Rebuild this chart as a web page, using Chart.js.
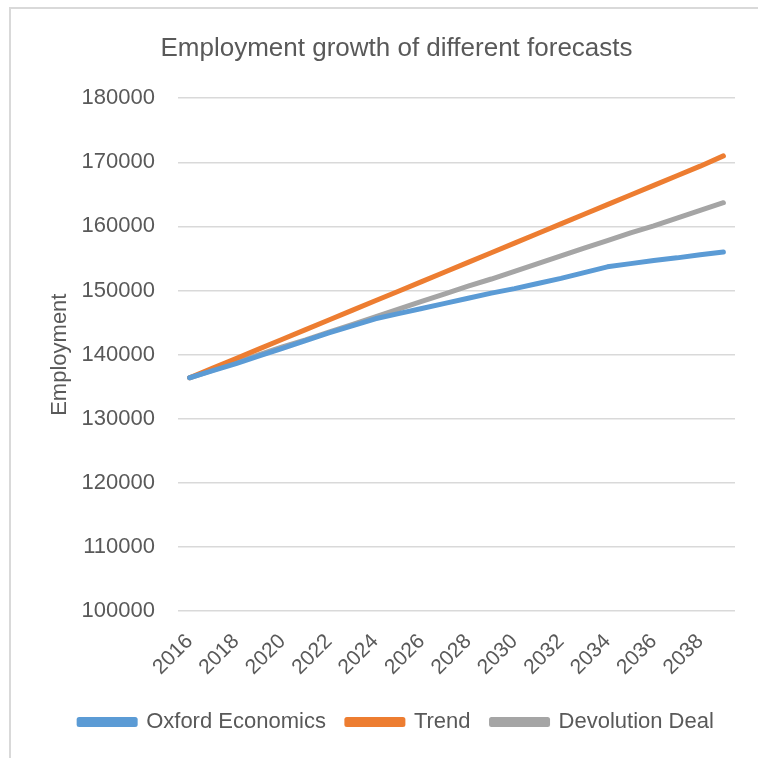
<!DOCTYPE html>
<html>
<head>
<meta charset="utf-8">
<script src="https://cdn.jsdelivr.net/npm/chart.js@4/dist/chart.umd.min.js"></script>
<style>
  html, body { margin: 0; padding: 0; background: #fff; }
  #frame { position: absolute; left: 9px; top: 7px; width: 800px; height: 800px; border-left: 2px solid #D9D9D9; border-top: 2px solid #D9D9D9; }
  #wrap { position: absolute; left: 0; top: 0; width: 758px; height: 758px; }
</style>
</head>
<body>
<div id="frame"></div>
<div id="wrap"><canvas id="chart"></canvas></div>
<script>
// years along the x axis
var years = ['2016','2017','2018','2019','2020','2021','2022','2023','2024','2025','2026','2027',
             '2028','2029','2030','2031','2032','2033','2034','2035','2036','2037','2038','2039'];

var oxford = [136400,137500,138600,139800,141000,142200,143400,144500,145600,146400,147200,148000,
              148800,149600,150300,151100,151900,152800,153700,154200,154700,155100,155600,156000];

var trend = [136400,137900,139400,140900,142400,143900,145400,146900,148400,149900,151400,152900,
             154400,155900,157400,158900,160400,161900,163400,164900,166400,167900,169400,171000];

var devolution = [136400,137600,138800,140000,141200,142300,143500,144700,145900,147100,148300,149500,
                  150700,151800,153000,154200,155400,156600,157800,159000,160100,161300,162500,163700];

var yTicks = [100000,110000,120000,130000,140000,150000,160000,170000,180000];

var fontFam = "'Liberation Sans', Arial, sans-serif";
var textCol = '#595959';

function series(label, data, col) {
    return {
        label: label,
        data: data,
        borderColor: col,
        backgroundColor: col,
        borderWidth: 5,
        pointRadius: 0,
        tension: 0,
        borderCapStyle: 'round',
        borderJoinStyle: 'round'
    };
}

var ctx = document.getElementById('chart');
new Chart(ctx, {
    type: 'line',
    data: {
        labels: years,
        datasets: [
            series('Oxford Economics', oxford, '#5B9BD5'),
            series('Trend', trend, '#ED7D31'),
            series('Devolution Deal', devolution, '#A5A5A5')
        ]
    },
    options: {
        responsive: true,
        maintainAspectRatio: false,
        animation: false,
        layout: { padding: { left: 58, right: 23, top: 33, bottom: 15 } },
        plugins: {
            title: {
                display: true,
                text: 'Employment growth of different forecasts',
                color: textCol,
                font: { family: fontFam, size: 26, weight: 'normal' },
                padding: { top: 0, bottom: 34 }
            },
            legend: {
                position: 'bottom',
                labels: {
                    color: textCol,
                    font: { family: fontFam, size: 22 },
                    boxWidth: 56,
                    boxHeight: 5,
                    padding: 21
                }
            },
            tooltip: { enabled: false }
        },
        scales: {
            x: {
                offset: true,
                grid: { display: false },
                border: { display: false },
                ticks: {
                    color: textCol,
                    font: { family: fontFam, size: 21 },
                    maxRotation: 45,
                    minRotation: 45,
                    autoSkip: false,
                    padding: 10,
                    callback: function (v, i) { return i % 2 === 0 ? years[i] : ''; }
                }
            },
            y: {
                min: 100000,
                max: 180000,
                afterBuildTicks: function (axis) {
                    axis.ticks = yTicks.map(function (v) { return { value: v }; });
                },
                afterFit: function (axis) { axis.width = 120; },
                grid: { color: '#D9D9D9', lineWidth: 1.5, drawTicks: false },
                border: { display: false },
                ticks: {
                    color: textCol,
                    font: { family: fontFam, size: 22 },
                    padding: 23,
                    callback: function (v) { return String(v); }
                },
                title: {
                    display: true,
                    text: 'Employment',
                    color: textCol,
                    font: { family: fontFam, size: 22 },
                    padding: { top: -11, bottom: 0 }
                }
            }
        }
    }
});
</script>
</body>
</html>
